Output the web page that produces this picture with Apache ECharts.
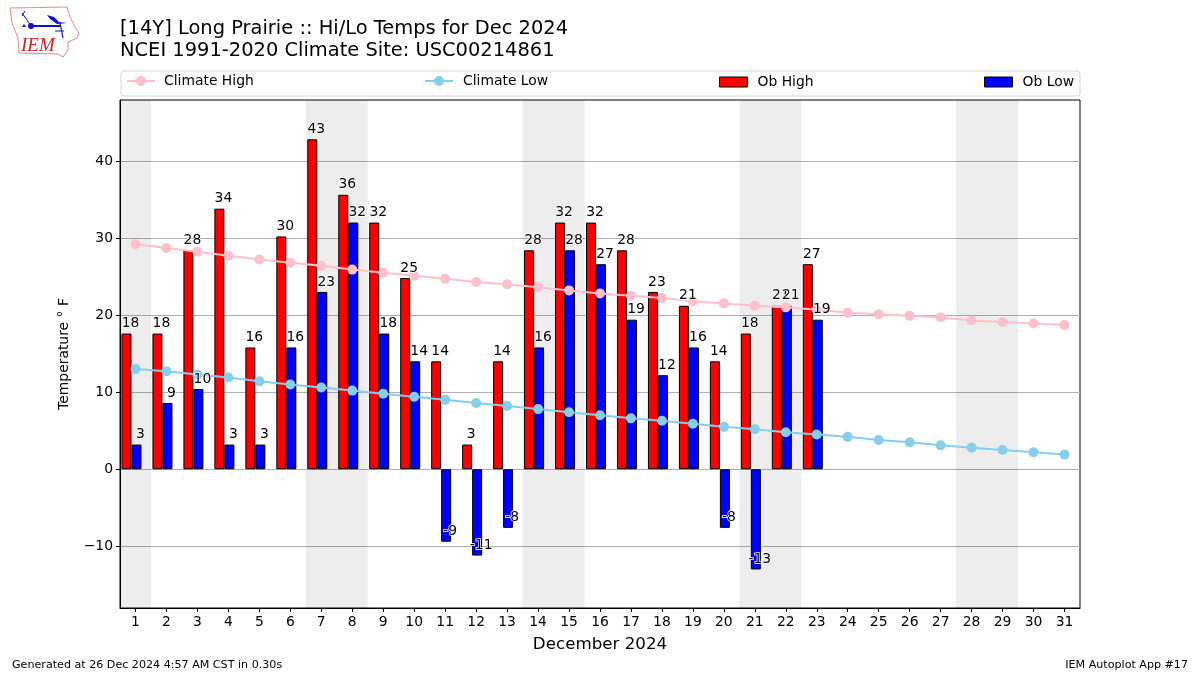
<!DOCTYPE html>
<html><head><meta charset="utf-8">
<style>html,body{margin:0;padding:0;background:#fff}#c{width:1200px;height:675px}</style>
<script src="https://cdn.jsdelivr.net/npm/echarts@6/dist/echarts.min.js"></script>
</head><body><div id="c"></div>
<script>
const days = Array.from({length:31},(_, i)=>String(i+1));
const obHigh = [17.6,17.6,28.4,33.8,15.8,30.2,42.8,35.6,32,24.8,14,3.2,14,28.4,32,32,28.4,23,21.2,14,17.6,21.2,26.6];
const obLow = [3.2,8.6,10.4,3.2,3.2,15.8,23,32,17.6,14,-9.4,-11.2,-7.6,15.8,28.4,26.6,19.4,12.2,15.8,-7.6,-13,21.2,19.4];
const climateHigh = [29.2,28.7,28.2,27.7,27.2,26.8,26.4,25.9,25.5,25.1,24.7,24.3,24.0,23.6,23.2,22.8,22.5,22.2,21.8,21.5,21.2,21.0,20.7,20.3,20.1,19.9,19.7,19.3,19.1,18.9,18.7];
const climateLow = [13.0,12.7,12.3,11.9,11.4,11.0,10.6,10.2,9.8,9.4,9.0,8.6,8.2,7.8,7.4,7.0,6.6,6.3,5.9,5.5,5.2,4.8,4.5,4.2,3.8,3.5,3.1,2.8,2.5,2.2,1.9];
const weekendBands = [[0.5,1.5],[6.5,8.5],[13.5,15.5],[20.5,22.5],[27.5,29.5]];
const yTicks = [-10,0,10,20,30,40];

const FONT = 'DejaVu Sans';
const chart = echarts.init(document.getElementById('c'), null, {renderer:'canvas'});
const labelSeries = (name, data, dx) => ({
  name, type:'scatter', data, symbolSize:0, z:6, silent:true,
  label:{show:true, position:'top', distance:0, offset:[dx,-3], color:'#000', opacity:1, fontFamily:FONT, fontSize:13.9,
    textBorderColor:'#fff', textBorderWidth:1.5,
    formatter:p=>String(Math.round(p.value))}
});
const legendCommon = {top:75, itemWidth:28, itemHeight:10, orient:'horizontal', padding:0,
  textStyle:{color:'#000', fontFamily:FONT, fontSize:13.9, padding:[0,0,0,5]}};
const lineLegend = {...legendCommon, top:74, itemHeight:12.5};
chart.setOption({
  animation:false,
  backgroundColor:'#fff',
  title:[
    {text:'[14Y] Long Prairie :: Hi/Lo Temps for Dec 2024\nNCEI 1991-2020 Climate Site: USC00214861', left:120, top:18, padding:0,
      textStyle:{color:'#000', fontFamily:FONT, fontSize:19.45, fontWeight:'normal', lineHeight:22}},
    {text:'Generated at 26 Dec 2024 4:57 AM CST in 0.30s', left:12, top:660, padding:0,
      textStyle:{color:'#000', fontFamily:FONT, fontSize:11.12, fontWeight:'normal'}},
    {text:'IEM Autoplot App #17', right:12, top:660, padding:0,
      textStyle:{color:'#000', fontFamily:FONT, fontSize:11.12, fontWeight:'normal'}}
  ],
  legend:[
    {...lineLegend, left:126, data:['Climate High'], textStyle:{...legendCommon.textStyle, padding:[0,0,0,4]}},
    {...lineLegend, left:424, data:['Climate Low']},
    {...legendCommon, left:719, data:[{name:'Ob High', icon:'rect', itemStyle:{borderWidth:1, borderColor:'#000'}}]},
    {...legendCommon, left:984, data:[{name:'Ob Low', icon:'rect', itemStyle:{borderWidth:1, borderColor:'#000'}}]}
  ],
  grid:{left:120, top:100, width:960, height:508, show:true, borderColor:'#000', borderWidth:1, backgroundColor:'#fff'},
  xAxis:[
    {type:'category', data:days, boundaryGap:true,
      name:'December 2024', nameLocation:'middle', nameGap:28,
      nameTextStyle:{color:'#000', fontFamily:FONT, fontSize:16.7},
      axisLine:{show:true, onZero:false, lineStyle:{color:'#000', width:1}},
      axisTick:{show:true, alignWithLabel:true, length:4, lineStyle:{color:'#000'}},
      axisLabel:{color:'#000', fontFamily:FONT, fontSize:13.9, margin:7, interval:0},
      splitLine:{show:false}},
    {type:'value', min:0.5, max:31.5, show:false, splitLine:{show:false}}
  ],
  yAxis:{type:'value', min:-18, max:47.9,
    name:'Temperature ° F', nameLocation:'middle', nameGap:49, nameRotate:90,
    nameTextStyle:{color:'#000', fontFamily:FONT, fontSize:13.9},
    axisLine:{show:true, lineStyle:{color:'#000', width:1}},
    axisTick:{show:true, length:4, lineStyle:{color:'#000'}, customValues:yTicks},
    axisLabel:{color:'#000', fontFamily:FONT, fontSize:13.9, margin:7, customValues:yTicks,
      formatter:v=>String(v).replace('-','\u2212')},
    splitLine:{show:true, lineStyle:{color:'#b0b0b0', width:1}}
  },
  series:[
    {name:'bands', type:'line', xAxisIndex:1, data:[], silent:true, z:1, symbol:'none',
      markArea:{silent:true, itemStyle:{color:'rgba(0,0,0,0.07)'},
        data:weekendBands.map(b=>[{xAxis:b[0]},{xAxis:b[1]}])}},
    {name:'Ob High', type:'bar', data:obHigh, barWidth:10, barGap:0, z:2,
      itemStyle:{color:'#ff0000', borderColor:'#000', borderWidth:1}},
    {name:'Ob Low', type:'bar', data:obLow, barWidth:10, barGap:0, z:2,
      itemStyle:{color:'#0000ff', borderColor:'#000', borderWidth:1}},
    {name:'gap', type:'bar', data:[], barWidth:8, barGap:0},
    {name:'Climate High', type:'line', data:climateHigh, symbol:'circle', symbolSize:10, z:4,
      lineStyle:{color:'#ffc0cb', width:2}, itemStyle:{color:'#ffc0cb'}},
    {name:'Climate Low', type:'line', data:climateLow, symbol:'circle', symbolSize:10, z:4,
      lineStyle:{color:'#87ceeb', width:2}, itemStyle:{color:'#87ceeb'}},
    labelSeries('High labels', obHigh, -5),
    labelSeries('Low labels', obLow, 5)
  ],
  graphic:[
    {type:'rect', left:120.5, top:70.5, z:-1, shape:{width:959, height:25, r:3},
      style:{fill:'#fff', stroke:'#d5d5d5', lineWidth:1}},
    {type:'polyline', z:5, shape:{points:[[10,8],[67,7],[70,17],[75,27],[79,33],[77,38],[68,42],[68,50],[63,57],[58,54],[19,53],[18,38],[12,23],[10,8]]},
      style:{fill:'none', stroke:'#e88a8a', lineWidth:1}},
    {type:'text', z:5, left:21, top:36, style:{text:'IEM', fill:'#d02020', font:'italic 19px "Liberation Serif"'}},
    {type:'polyline', z:5, shape:{points:[[31,26],[60,26]]}, style:{fill:'none', stroke:'#1010d0', lineWidth:2}},
    {type:'polyline', z:5, shape:{points:[[31,26],[27,20],[22,13]]}, style:{fill:'none', stroke:'#1010d0', lineWidth:1}},
    {type:'polyline', z:5, shape:{points:[[22,16],[25,11]]}, style:{fill:'none', stroke:'#1010d0', lineWidth:1}},
    {type:'polyline', z:5, shape:{points:[[60,23],[63,38]]}, style:{fill:'none', stroke:'#1010d0', lineWidth:1.2}},
    {type:'polyline', z:5, shape:{points:[[55,31],[64,31]]}, style:{fill:'none', stroke:'#1010d0', lineWidth:1}},
    {type:'circle', z:5, shape:{cx:31,cy:26,r:3}, style:{fill:'#1010d0'}},
    {type:'polygon', z:5, shape:{points:[[47,15],[54,17],[59,22],[67,23],[57,24],[50,19]]}, style:{fill:'#1010d0'}},
    {type:'polygon', z:5, shape:{points:[[24,24],[26,27],[22,27]]}, style:{fill:'#1010d0'}}
  ]
});
</script></body></html>
